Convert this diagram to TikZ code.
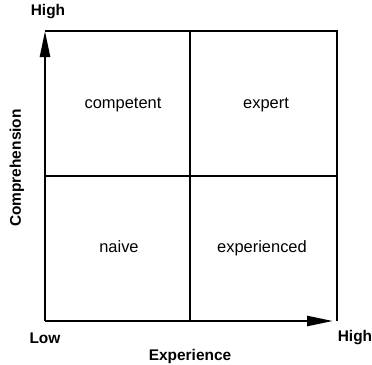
\documentclass[tikz,border=0pt]{standalone}
\usepackage{fontspec}
\setmainfont{Liberation Sans}
\usetikzlibrary{arrows.meta,positioning}

\begin{document}
\begin{tikzpicture}
  [x=1bp, y=-1bp, line width=2.5bp, node distance=17bp,
   cell/.style={font=\fontsize{16.5}{19}\selectfont},
   axislabel/.style={font=\fontsize{15.5}{17}\selectfont\bfseries},
   axisarrow/.style={-{Triangle[length=26bp,width=10bp]}}]
  \useasboundingbox (0,0) rectangle (372,365);
  \coordinate (low) at (45,321);
  \coordinate (top) at (45,31);
  \coordinate (topright) at (337,31);
  \coordinate (botright) at (337,321);
  \coordinate (tip) at (333,321);
  \coordinate (midtop) at (190,31);
  \coordinate (midbot) at (190,321);
  \coordinate (midleft) at (45,176);
  \coordinate (midright) at (337,176);

  \node [name=competent, cell] at (123,105) {competent};
  \node [name=expert, cell] at (266,105) {expert};
  \node [name=naive, cell] at (119,247) {naive};
  \node [name=experienced, cell] at (262,248) {experienced};

  \node [name=lowlabel, axislabel, below of=low] {Low};
  \node [name=highx, axislabel] at (355,338) {High};
  \node [name=highy, axislabel] at (48,12) {High};
  \node [name=experience, axislabel, below of=midbot, node distance=36bp] {Experience};
  \node [name=comprehension, axislabel, rotate=90] at (17,168) {Comprehension};

  \draw (top) -- (topright) -- (botright);
  \draw (midtop) -- (midbot);
  \draw (midleft) -- (midright);
  \draw [axisarrow] (low) -- (top);
  \draw [axisarrow] (low) -- (tip);
\end{tikzpicture}
\end{document}
